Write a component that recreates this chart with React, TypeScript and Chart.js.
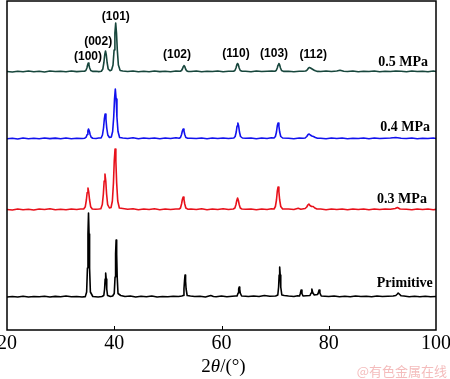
import React, { useEffect, useRef } from 'react';
import { Chart, registerables } from 'chart.js';
Chart.register(...registerables);

type P = [number, number];

const seriesNames = ['Primitive', '0.3 MPa', '0.4 MPa', '0.5 MPa'];
const seriesOffsets = [33, 120, 191, 258];
const seriesColors = ['#000000', '#e8111b', '#1212ee', '#17463c'];

const primitive: P[] = [
  [20, 0], [21, 0.5], [22, 0], [23, 0.8], [24, 0], [25, 0.5], [26, 0.3], [27, 0.8], [28, 0], [29, 0.6], [30, 0.3], [31, 1], [32, 0.2], [33, 0.5], [34, 0], [34.6, 0.4],
  [34.85, 5], [35.0, 29], [35.1, 63], [35.2, 84], [35.3, 63], [35.4, 29], [35.55, 5],
  [36, 0.5], [37, 0], [37.7, 0.5],
  [38.05, 1.5], [38.2, 8], [38.3, 18], [38.4, 24], [38.5, 18], [38.6, 8], [38.75, 1.5],
  [39.3, 0.5], [39.7, 1],
  [40.0, 3.5], [40.15, 20], [40.25, 43], [40.35, 57], [40.45, 43], [40.55, 20], [40.7, 3.5],
  [41.2, 1.5], [42, 0.5], [43, 1], [44, 0], [45, 0.8], [46, 0.2], [47, 1], [48, 0], [49, 0.5], [50, 0.3], [51, 0.8], [52, 0.5], [52.6, 1],
  [52.85, 1.5], [53.0, 8], [53.1, 16], [53.2, 22], [53.3, 16], [53.4, 8], [53.6, 1.5],
  [54.2, 1], [55, 0.5], [56, 0.8], [57, 0], [58, 1.5], [58.5, 0.5], [59, 0.3], [60, 1], [61, 0.3], [62, 0.8], [62.6, 1],
  [62.9, 1], [63.1, 4], [63.2, 8], [63.3, 10], [63.4, 8], [63.5, 4], [63.75, 1],
  [64.5, 0.8], [65, 0.5], [66, 1], [67, 0.5], [68, 1.5], [69, 0.8], [70.1, 1],
  [70.5, 2], [70.65, 10], [70.75, 22], [70.85, 30], [70.95, 22], [71.05, 10], [71.25, 2],
  [71.7, 1.5], [72.5, 1], [73.5, 0.5], [74.2, 1.2],
  [74.55, 1], [74.7, 3.5], [74.85, 7], [75.0, 3.5], [75.2, 1],
  [75.8, 1.2], [76.5, 1.5], [76.7, 4], [76.85, 8], [77.0, 4.5], [77.3, 2],
  [77.9, 2.5], [78.05, 4], [78.2, 7], [78.35, 4], [78.6, 1],
  [79.3, 0.8], [80, 0.5], [81, 1], [82, 0.3], [83, 0.8], [84, 0.2], [85, 1], [86, 0.5], [87, 0.8], [88, 0.2], [89, 1], [90, 0.5], [91, 0.8], [92, 1],
  [92.5, 1.5], [92.8, 3], [92.95, 4], [93.15, 3], [93.5, 1.2],
  [94, 1], [95, 0.3], [96, 0.8], [97, 0.2], [98, 0.8], [99, 0.3], [100, 0.5],
];

const mpa03: P[] = [
  [20, 0.5], [21, 0], [22, 1], [23, 0.3], [24, 0.8], [25, 0], [26, 1], [27, 0.5], [28, 1.2], [29, 0.3], [30, 0.8], [31, 0.2], [32, 1], [33, 0.5], [33.7, 1],
  [34.3, 1], [34.6, 3.3], [34.8, 10], [34.95, 17.5], [35.1, 22], [35.25, 17.5], [35.4, 10], [35.6, 3.3], [35.9, 1],
  [36.5, 0.8], [37.1, 1],
  [37.5, 1.2], [37.77, 5.4], [37.97, 16], [38.12, 29], [38.27, 36], [38.42, 29], [38.57, 16], [38.77, 5.4], [39.1, 2],
  [39.4, 2.5], [39.65, 9], [39.85, 27], [40.0, 49], [40.15, 61], [40.3, 49], [40.45, 27], [40.65, 9], [40.95, 2],
  [41.6, 1.5], [42.5, 0.8], [43.5, 1.2], [44.5, 0.3], [45.5, 1], [46.5, 0.5], [47.5, 1.2], [48.5, 0.3], [49.5, 1], [50.5, 0.5], [51.5, 1],
  [52.1, 1], [52.35, 2], [52.55, 6], [52.7, 10.5], [52.85, 13], [53.0, 10.5], [53.15, 6], [53.35, 2], [53.7, 0.8],
  [54.3, 1], [55.3, 0.5], [56.3, 1.2], [57.3, 0.3], [58.3, 1], [59.3, 0.5], [60.3, 1.2], [61.3, 0.5],
  [62.2, 1], [62.5, 2], [62.7, 5.5], [62.85, 9.5], [63.0, 12], [63.15, 9.5], [63.3, 5.5], [63.5, 2], [63.8, 1],
  [64.5, 0.8], [65.5, 1], [66.5, 0.3], [67.5, 1], [68.5, 0.5], [69.3, 1.2],
  [69.8, 1], [70.05, 3.5], [70.25, 10], [70.4, 18.5], [70.55, 23], [70.7, 18.5], [70.85, 10], [71.05, 3.5], [71.4, 1],
  [72.5, 1], [73.5, 0.5], [74.3, 1.8], [74.8, 0.8],
  [75.6, 1.5], [75.9, 3], [76.1, 5], [76.3, 6], [76.5, 4.5], [76.8, 3.5], [77.1, 3.5], [77.4, 2], [77.8, 1],
  [78.5, 1], [79.5, 0.3], [80.5, 1], [81.5, 0.5], [82.5, 1], [83.5, 0.3], [84.5, 1], [85.5, 0.5], [86.5, 1], [87.5, 0.3], [88.5, 1], [89.5, 0.5], [90.5, 1], [91.5, 0.8],
  [92.4, 1.5], [92.8, 2.5], [93.3, 1],
  [94.5, 0.8], [95.5, 0.2], [96.5, 1], [97.5, 0.5], [98.5, 1], [99.5, 0.3], [100, 0.6],
];

const mpa04: P[] = [
  [20, 0.3], [21, 0.8], [22, 0], [23, 1], [24, 0.3], [25, 0.8], [26, 0.2], [27, 1], [28, 0.4], [29, 0.9], [30, 0.2], [31, 1], [32, 0.3], [33, 0.8], [34, 0.5],
  [34.5, 0.8], [34.75, 1.8], [34.95, 4.5], [35.08, 8], [35.2, 10], [35.35, 8], [35.5, 4.5], [35.7, 1.8], [36, 0.8],
  [36.6, 0.5], [37.1, 1],
  [37.55, 1], [37.8, 4], [38.0, 11], [38.15, 20], [38.3, 25], [38.45, 20], [38.6, 11], [38.8, 4], [39.1, 1.5],
  [39.45, 2], [39.7, 7.5], [39.9, 22], [40.05, 40], [40.2, 50], [40.35, 40], [40.5, 22], [40.7, 7.5], [41.0, 1.5],
  [41.6, 1], [42.5, 0.5], [43.5, 1.2], [44.5, 0.3], [45.5, 1], [46.5, 0.5], [47.5, 1], [48.5, 0.3], [49.5, 1], [50.5, 0.5], [51.5, 1.2],
  [52.1, 0.8], [52.35, 1.5], [52.55, 4.5], [52.7, 8], [52.85, 10], [53.0, 8], [53.15, 4.5], [53.35, 1.5], [53.7, 0.8],
  [54.3, 0.8], [55.3, 0.5], [56.3, 1], [57.3, 0.3], [58.3, 1], [59.3, 0.5], [60.3, 1], [61.3, 0.5],
  [62.3, 1], [62.55, 2.5], [62.75, 7], [62.9, 13], [63.05, 16], [63.2, 13], [63.35, 7], [63.55, 2.5], [63.9, 1],
  [64.5, 0.8], [65.5, 1], [66.5, 0.3], [67.5, 1], [68.5, 0.5], [69.3, 1.2],
  [69.8, 1], [70.05, 2.5], [70.25, 7], [70.4, 13], [70.55, 16], [70.7, 13], [70.85, 7], [71.05, 2.5], [71.4, 1],
  [72.5, 0.8], [73.5, 0.3], [74.5, 1], [75.2, 0.8],
  [75.6, 1], [75.9, 2.5], [76.15, 4.5], [76.35, 5], [76.55, 4], [76.85, 3], [77.15, 2.5], [77.5, 1.5], [77.9, 0.8],
  [78.5, 0.8], [79.5, 0.3], [80.5, 1], [81.5, 0.5], [82.5, 1], [83.5, 0.3], [84.5, 0.8], [85.5, 0.5], [86.5, 1], [87.5, 0.3], [88.5, 1], [89.5, 0.5], [90.5, 0.8], [91.5, 1], [92.5, 1.5], [93.5, 0.8], [94.5, 0.5], [95.5, 1], [96.5, 0.3], [97.5, 0.8], [98.5, 0.5], [99.5, 1], [100, 0.5],
];

const mpa05: P[] = [
  [20, 0.5], [21, 0], [22, 0.8], [23, 0.2], [24, 1], [25, 0.3], [26, 0.8], [27, 0], [28, 1], [29, 0.5], [30, 0.8], [31, 0.2], [32, 1], [33, 0.4], [34, 0.8],
  [34.45, 0.8], [34.7, 1.5], [34.9, 4], [35.03, 7], [35.15, 9], [35.28, 7], [35.42, 4], [35.62, 1.5], [35.95, 0.6],
  [36.6, 0.8], [37.1, 0.4],
  [37.6, 0.8], [37.87, 3], [38.07, 9.5], [38.22, 17], [38.37, 21], [38.52, 17], [38.67, 9.5], [38.87, 3], [39.2, 1.2],
  [39.5, 2], [39.77, 7], [39.97, 22], [40.12, 39], [40.27, 49], [40.42, 39], [40.57, 22], [40.77, 7], [41.1, 1.5],
  [41.6, 1], [42.5, 0.5], [43.5, 1], [44.5, 0.3], [45.5, 0.8], [46.5, 0.2], [47.5, 1], [48.5, 0.4], [49.5, 0.8], [50.5, 0.3], [51.5, 1],
  [52.3, 0.8], [52.55, 1.5], [52.75, 3.5], [52.88, 5.5], [53.0, 6.5], [53.15, 5.5], [53.3, 3], [53.5, 1.2], [53.8, 0.5],
  [54.3, 0.5], [55.3, 1], [56.3, 0.3], [57.3, 0.8], [58.3, 0.5], [59.3, 1], [60.3, 0.3], [61.3, 0.8],
  [62.25, 0.8], [62.5, 1.5], [62.7, 4], [62.85, 7], [63.0, 8.5], [63.15, 7], [63.3, 4], [63.5, 1.5], [63.85, 0.8],
  [64.5, 0.8], [65.5, 0.3], [66.5, 1], [67.5, 0.5], [68.5, 0.8], [69.4, 1],
  [69.95, 0.8], [70.2, 1.5], [70.4, 4], [70.55, 7], [70.7, 8.5], [70.85, 7], [71.0, 4], [71.2, 1.5], [71.55, 0.6],
  [72.5, 0.8], [73.5, 0.3], [74.5, 0.8], [75.2, 0.8],
  [75.7, 1], [76.0, 2.2], [76.2, 3.8], [76.4, 4.5], [76.6, 4], [76.9, 3], [77.2, 2], [77.5, 1.2], [77.9, 0.6],
  [78.5, 0.5], [79.5, 1], [80.5, 0.5], [81.5, 1], [82.1, 1.8], [82.8, 0.8], [83.5, 0.5], [84.5, 1], [85.5, 0.3], [86.5, 0.8], [87.5, 0.5], [88.5, 1], [89.5, 0.3], [90.5, 0.8], [91.5, 0.5], [92.5, 1], [93.5, 0.8], [94.5, 0.3], [95.5, 1], [96.5, 0.5], [97.5, 0.8], [98.5, 0.3], [99.5, 1], [100, 0.5],
];

const seriesData: P[][] = [primitive, mpa03, mpa04, mpa05];

const xTicks = [20, 40, 60, 80, 100];

const peakLabels = ['(100)', '(002)', '(101)', '(102)', '(110)', '(103)', '(112)'];
const peakLabelX = [35.1, 37.0, 40.3, 51.7, 62.7, 69.8, 77.1];
const peakLabelY = [273, 288, 313, 275, 276, 276, 275];

const seriesLabelX = [99.4, 98.3, 98.9, 98.5];
const seriesLabelY = [47, 131, 203, 268];

const watermark = '@有色金属在线';

const overlay = {
  id: 'overlay',
  afterDraw(chart: any) {
    const { ctx, chartArea: a, scales } = chart;
    const x = scales.x;
    const y = scales.y;
    ctx.save();
    ctx.strokeStyle = '#000';
    ctx.lineWidth = 1.5;
    ctx.strokeRect(a.left, a.top, a.right - a.left, a.bottom - a.top);
    ctx.lineWidth = 1;
    for (const t of xTicks.slice(1, -1)) {
      const px = Math.round(x.getPixelForValue(t)) + 0.5;
      ctx.beginPath();
      ctx.moveTo(px, a.bottom);
      ctx.lineTo(px, a.bottom - 4);
      ctx.stroke();
    }
    ctx.fillStyle = '#000';
    ctx.textBaseline = 'middle';
    ctx.textAlign = 'center';
    ctx.font = 'bold 12px "Liberation Sans", Arial, sans-serif';
    peakLabels.forEach((s, i) => {
      ctx.fillText(s, x.getPixelForValue(peakLabelX[i]), y.getPixelForValue(peakLabelY[i]));
    });
    ctx.textAlign = 'right';
    ctx.font = 'bold 14px "Liberation Serif", "Times New Roman", serif';
    seriesNames.forEach((s, i) => {
      ctx.fillText(s, x.getPixelForValue(seriesLabelX[i]), y.getPixelForValue(seriesLabelY[i]));
    });
    const parts: [string, string][] = [
      ['2', '19px "Liberation Serif", serif'],
      ['θ', 'italic 19px "Liberation Serif", serif'],
      ['/(°)', '19px "Liberation Serif", serif'],
    ];
    let total = 0;
    for (const [t, f] of parts) { ctx.font = f; total += ctx.measureText(t).width; }
    let cx = (a.left + a.right) / 2 + 2 - total / 2;
    ctx.textAlign = 'left';
    for (const [t, f] of parts) {
      ctx.font = f;
      ctx.fillText(t, cx, 367);
      cx += ctx.measureText(t).width;
    }
    ctx.font = '13px "Noto Sans CJK SC", sans-serif';
    ctx.fillStyle = '#f4bcbc';
    ctx.textAlign = 'right';
    ctx.fillText(watermark, 447, 371);
    ctx.restore();
  },
};

export default function App() {
  const ref = useRef<HTMLCanvasElement | null>(null);
  useEffect(() => {
    if (!ref.current) return;
    const chart = new Chart(ref.current, {
      type: 'line',
      data: {
        datasets: seriesData.map((d, i) => ({
          label: seriesNames[i],
          data: d.map(([a, b]) => ({ x: a, y: b + seriesOffsets[i] })),
          borderColor: seriesColors[i],
          borderWidth: 1.6,
          borderJoinStyle: 'round',
          borderCapStyle: 'round',
          pointRadius: 0,
          tension: 0,
          fill: false,
        })),
      },
      options: {
        animation: false,
        responsive: false,
        devicePixelRatio: 1,
        layout: { padding: { left: 7, right: 14, top: 1, bottom: 0 } },
        plugins: { legend: { display: false }, tooltip: { enabled: false } },
        scales: {
          x: {
            type: 'linear',
            min: 20,
            max: 100,
            grid: { display: false, drawTicks: false },
            border: { display: false },
            ticks: {
              stepSize: 20,
              padding: 2,
              color: '#000',
              font: { family: '"Liberation Serif", "Times New Roman", serif', size: 20 },
            },
            afterFit: (s: any) => { s.height = 49; s.paddingLeft = 0; s.paddingRight = 0; },
          },
          y: { display: false, min: 0, max: 329 },
        },
      },
      plugins: [overlay],
    } as any);
    return () => chart.destroy();
  }, []);
  return (
    <div style={{ position: 'absolute', left: 0, top: 0, width: 450, height: 379 }}>
      <canvas ref={ref} width={450} height={379} style={{ width: 450, height: 379 }} />
    </div>
  );
}
